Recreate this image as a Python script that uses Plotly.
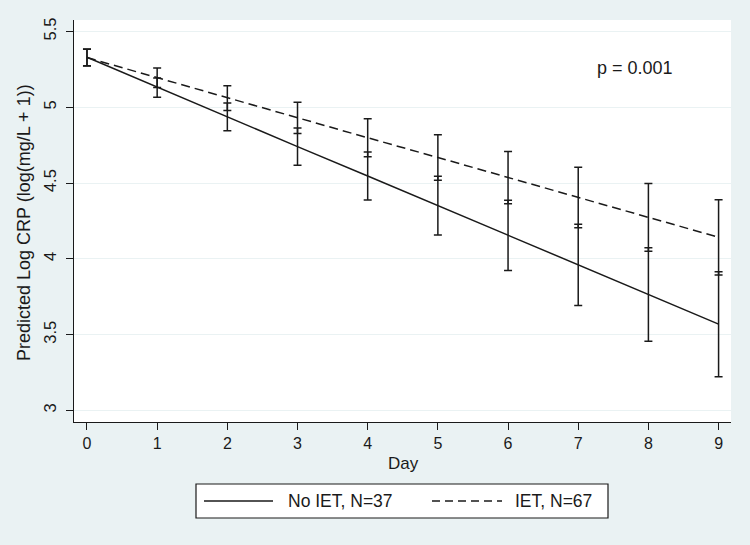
import plotly.graph_objects as go

# ---- data ----
days = [0, 1, 2, 3, 4, 5, 6, 7, 8, 9]

no_iet_mean = [5.330, 5.132, 4.937, 4.741, 4.547, 4.351, 4.155, 3.960, 3.766, 3.570]
no_iet_lo   = [5.275, 5.067, 4.845, 4.617, 4.389, 4.157, 3.924, 3.692, 3.457, 3.222]
no_iet_hi   = [5.385, 5.194, 5.028, 4.863, 4.705, 4.545, 4.387, 4.229, 4.074, 3.916]

iet_mean = [5.328, 5.195, 5.061, 4.931, 4.799, 4.669, 4.536, 4.405, 4.274, 4.143]
iet_lo   = [5.273, 5.130, 4.979, 4.828, 4.674, 4.519, 4.363, 4.205, 4.051, 3.894]
iet_hi   = [5.383, 5.260, 5.143, 5.034, 4.924, 4.819, 4.709, 4.604, 4.497, 4.391]

y_ticks = [3, 3.5, 4, 4.5, 5, 5.5]
y_tick_text = ["3", "3.5", "4", "4.5", "5", "5.5"]
x_ticks = days

series_names = ["No IET, N=37", "IET, N=67"]
p_text = "p = 0.001"
x_title = "Day"
y_title = "Predicted Log CRP (log(mg/L + 1))"

# ---- layout geometry ----
W, H = 750, 545
L, R, T, B = 74, 731, 20, 422
BG = "#EAF2F3"
INK = "#1a1a1a"
FONT = "Liberation Sans, Arial, Helvetica, sans-serif"


def px(xp):
    return (xp - L) / (R - L)


def py(yp):
    return (B - yp) / (B - T)


fig = go.Figure()

def err(mean, lo, hi):
    return dict(type="data", symmetric=False,
                array=[h - m for h, m in zip(hi, mean)],
                arrayminus=[m - l for m, l in zip(mean, lo)],
                color=INK, thickness=1.5, width=4)

fig.add_trace(go.Scatter(x=days, y=no_iet_mean, mode="lines", name=series_names[0],
                         line=dict(color=INK, width=1.5),
                         error_y=err(no_iet_mean, no_iet_lo, no_iet_hi),
                         showlegend=False))
fig.add_trace(go.Scatter(x=days, y=iet_mean, mode="lines", name=series_names[1],
                         line=dict(color=INK, width=1.5, dash="9px,5px"),
                         error_y=err(iet_mean, iet_lo, iet_hi),
                         showlegend=False))

fig.update_layout(
    width=W, height=H,
    margin=dict(l=L, r=W - R, t=T, b=H - B, pad=0),
    paper_bgcolor=BG, plot_bgcolor="white",
    font=dict(family=FONT, color=INK, size=16),
    showlegend=False,
)

fig.update_xaxes(range=[-0.185, 9.177], tickmode="array", tickvals=x_ticks,
                 ticktext=[str(d) for d in x_ticks],
                 ticks="outside", ticklen=7, tickwidth=1, tickcolor=INK,
                 showline=True, linecolor=INK, linewidth=1,
                 showgrid=False, zeroline=False,
                 tickfont=dict(size=16, family=FONT, color=INK))
fig.update_yaxes(range=[2.924, 5.576], tickmode="array", tickvals=y_ticks,
                 ticktext=y_tick_text, tickangle=-90, ticklabelstandoff=3,
                 ticks="outside", ticklen=7, tickwidth=1, tickcolor=INK,
                 showline=True, linecolor=INK, linewidth=1,
                 showgrid=True, gridcolor=BG, gridwidth=1.2,
                 zeroline=False,
                 tickfont=dict(size=16.5, family=FONT, color=INK))

ann = []
# axis titles
ann.append(dict(text=x_title, xref="paper", yref="paper", x=px(403), y=py(463),
                xanchor="center", yanchor="middle", showarrow=False,
                font=dict(size=17, family=FONT, color=INK)))
ann.append(dict(text=y_title, xref="paper", yref="paper", x=px(24), y=py(223),
                xanchor="center", yanchor="middle", showarrow=False, textangle=-90,
                font=dict(size=18, family=FONT, color=INK)))
# p value
ann.append(dict(text=p_text, xref="paper", yref="paper", x=px(635), y=py(68),
                xanchor="center", yanchor="middle", showarrow=False,
                font=dict(size=18, family=FONT, color=INK)))
# legend text
ann.append(dict(text=series_names[0], xref="paper", yref="paper", x=px(286), y=py(501),
                xanchor="left", yanchor="middle", showarrow=False,
                font=dict(size=17.5, family=FONT, color=INK)))
ann.append(dict(text=series_names[1], xref="paper", yref="paper", x=px(513), y=py(501),
                xanchor="left", yanchor="middle", showarrow=False,
                font=dict(size=17.5, family=FONT, color=INK)))
fig.update_layout(annotations=ann)

shapes = [
    dict(type="rect", xref="paper", yref="paper", x0=px(196), x1=px(608),
         y0=py(484), y1=py(518), line=dict(color=INK, width=1.2), fillcolor="white", layer="above"),
    dict(type="line", xref="paper", yref="paper", x0=px(204), x1=px(273),
         y0=py(501), y1=py(501), line=dict(color=INK, width=1.5), layer="above"),
    dict(type="line", xref="paper", yref="paper", x0=px(432), x1=px(502),
         y0=py(501), y1=py(501), line=dict(color=INK, width=1.5, dash="8px,5px"), layer="above"),
]
fig.update_layout(shapes=shapes)

fig.write_html("out.html")
